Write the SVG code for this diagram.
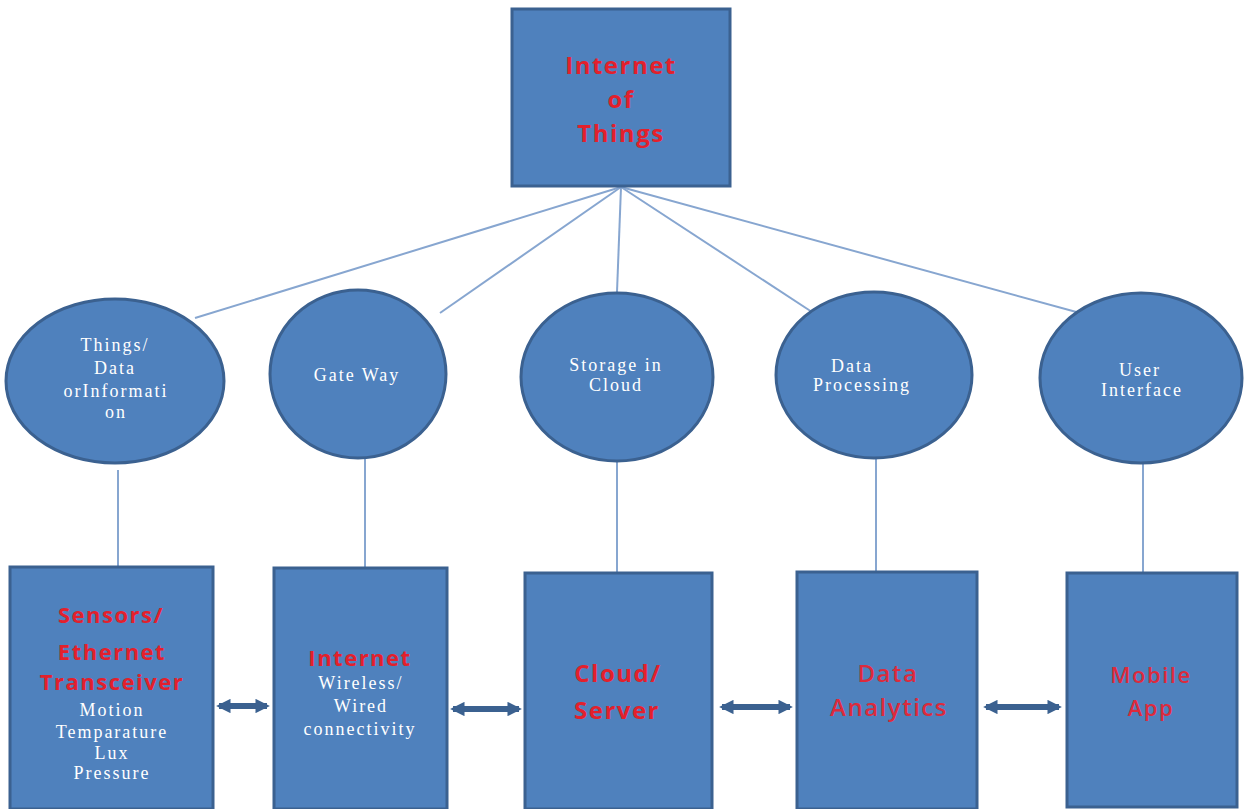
<svg xmlns="http://www.w3.org/2000/svg" width="1244" height="809" viewBox="0 0 1244 809">
<style>
.node{fill:#4f81bd;stroke:#3b6190;stroke-width:3}
.link{stroke:#87a6d0;stroke-width:2;fill:none}
.arr{stroke:#3b6190;stroke-width:6;fill:none}
.red{font-family:"Open Sans",Lato,sans-serif;font-weight:bold;fill:#e3202c;text-anchor:middle;letter-spacing:1.5px}
.redn{font-family:"Open Sans",Lato,sans-serif;font-weight:600;fill:#dd2a3c;text-anchor:middle;letter-spacing:1.5px}
.wt{font-family:"Liberation Serif",serif;fill:#ffffff;text-anchor:middle;font-size:18px;letter-spacing:2px}
</style>
<defs>
<marker id="ah" viewBox="0 0 10 10" refX="8" refY="5" markerWidth="2.4" markerHeight="2.4" orient="auto-start-reverse">
<path d="M0,0 L10,5 L0,10 z" fill="#3b6190"/>
</marker>
</defs>
<rect width="1244" height="809" fill="#ffffff"/>
<g id="connectors">
<line class="link" x1="621" y1="187" x2="195" y2="318"/>
<line class="link" x1="621" y1="187" x2="440" y2="313"/>
<line class="link" x1="621" y1="187" x2="617" y2="292"/>
<line class="link" x1="621" y1="187" x2="812" y2="312"/>
<line class="link" x1="621" y1="187" x2="1080" y2="313"/>
<line class="link" x1="118" y1="470" x2="118" y2="567"/>
<line class="link" x1="365" y1="459" x2="365" y2="568"/>
<line class="link" x1="617" y1="462" x2="617" y2="573"/>
<line class="link" x1="876" y1="459" x2="876" y2="572"/>
<line class="link" x1="1143" y1="464" x2="1143" y2="573"/>
<line class="arr" x1="219" y1="706" x2="267" y2="706" marker-start="url(#ah)" marker-end="url(#ah)"/>
<line class="arr" x1="453" y1="709" x2="519" y2="709" marker-start="url(#ah)" marker-end="url(#ah)"/>
<line class="arr" x1="722" y1="707" x2="790" y2="707" marker-start="url(#ah)" marker-end="url(#ah)"/>
<line class="arr" x1="986" y1="707" x2="1059" y2="707" marker-start="url(#ah)" marker-end="url(#ah)"/>
</g>
<g id="iot">
<rect class="node" x="512" y="9" width="218" height="177"/>
<text class="red" font-size="24" x="621" y="74">Internet</text>
<text class="red" font-size="24" x="621" y="108">of</text>
<text class="red" font-size="24" x="621" y="142">Things</text>
</g>
<g id="things">
<ellipse class="node" cx="115" cy="381" rx="109" ry="82"/>
<text class="wt" x="115" y="351">Things/</text>
<text class="wt" x="115" y="374">Data</text>
<text class="wt" x="116" y="397">orInformati</text>
<text class="wt" x="116" y="418">on</text>
</g>
<g id="gateway">
<ellipse class="node" cx="358" cy="374" rx="88" ry="84"/>
<text class="wt" x="357" y="381">Gate Way</text>
</g>
<g id="storage">
<ellipse class="node" cx="617" cy="377" rx="96" ry="84"/>
<text class="wt" x="616" y="371">Storage  in</text>
<text class="wt" x="616" y="391">Cloud</text>
</g>
<g id="processing">
<ellipse class="node" cx="874" cy="375" rx="98" ry="83"/>
<text class="wt" x="852" y="372">Data</text>
<text class="wt" x="862" y="391">Processing</text>
</g>
<g id="ui">
<ellipse class="node" cx="1141" cy="378" rx="101" ry="85"/>
<text class="wt" x="1140" y="376">User</text>
<text class="wt" x="1142" y="396">Interface</text>
</g>
<g id="sensors">
<rect class="node" x="10" y="567" width="203" height="242"/>
<text class="red" font-size="22" x="111" y="623">Sensors/</text>
<text class="red" font-size="22" x="112" y="660">Ethernet</text>
<text class="red" font-size="22" x="112" y="690">Transceiver</text>
<text class="wt" x="112" y="716">Motion</text>
<text class="wt" x="112" y="738">Temparature</text>
<text class="wt" x="112" y="759">Lux</text>
<text class="wt" x="112" y="779">Pressure</text>
</g>
<g id="internet">
<rect class="node" x="274" y="568" width="173" height="241"/>
<text class="red" font-size="22" x="360" y="666">Internet</text>
<text class="wt" x="361" y="689">Wireless/</text>
<text class="wt" x="361" y="712">Wired</text>
<text class="wt" x="360" y="735">connectivity</text>
</g>
<g id="cloud">
<rect class="node" x="525" y="573" width="187" height="236"/>
<text class="red" font-size="24" x="618" y="682">Cloud/</text>
<text class="red" font-size="24" x="617" y="719">Server</text>
</g>
<g id="analytics">
<rect class="node" x="797" y="572" width="180" height="237"/>
<text class="redn" font-size="24" x="888" y="682">Data</text>
<text class="redn" font-size="24" x="889" y="716">Analytics</text>
</g>
<g id="mobile">
<rect class="node" x="1067" y="573" width="170" height="234"/>
<text class="redn" font-size="22" x="1151" y="683">Mobile</text>
<text class="redn" font-size="22" x="1151" y="716">App</text>
</g>
</svg>
